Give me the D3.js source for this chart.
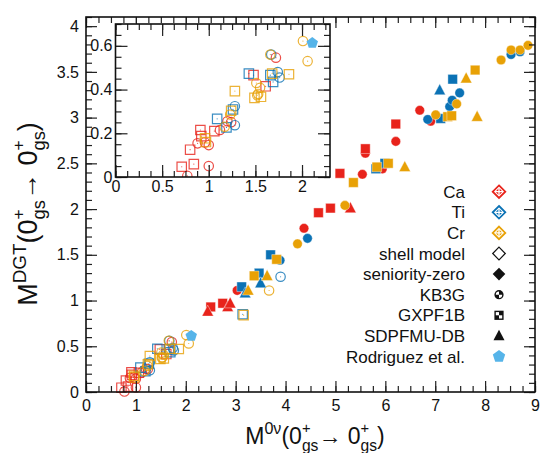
<!DOCTYPE html>
<html><head><meta charset="utf-8">
<script src="https://cdn.jsdelivr.net/npm/d3@7"></script>
<style>
body{margin:0;background:#fff}
svg{display:block}
text{font-family:"Liberation Sans",Arial,Helvetica,sans-serif;fill:#111}
</style>
</head><body>
<svg id="c" width="546" height="453"></svg>
<script>
// ---------------- DATA ----------------
const xTicksMain = [0,1,2,3,4,5,6,7,8,9];
const xTickLabelsMain = ["0","1","2","3","4","5","6","7","8","9"];
const yTicksMain = [0,0.5,1,1.5,2,2.5,3,3.5,4];
const yTickLabelsMain = ["0","0.5","1","1.5","2","2.5","3","3.5","4"];
const xTicksInset = [0,0.5,1,1.5,2];
const xTickLabelsInset = ["0","0.5","1","1.5","2"];
const yTicksInset = [0,0.2,0.4,0.6];
const yTickLabelsInset = ["0","0.2","0.4","0.6"];

const nuclei = ["Ca","Ti","Cr"];
const methodLabels = ["shell model","seniority-zero"];
const interactionLabels = ["KB3G","GXPF1B","SDPFMU-DB"];
const otherLabel = "Rodriguez et al.";

// shell model (open markers): [M0v, MDGT]
const caShellKB3G = [[1.72,0.546],[1.24,0.251],[1.20,0.255],[1.12,0.215],[0.88,0.154],[1.00,0.146],[0.96,0.158],[1.00,0.05],[0.77,0.005]];
const caShellGXPF1B = [[1.48,0.466],[1.61,0.415],[1.06,0.21],[0.91,0.215],[0.92,0.187],[0.80,0.125],[0.71,0.047],[0.84,0.059]];
const tiShellKB3G = [[1.67,0.56],[1.74,0.48],[1.76,0.455],[1.28,0.324],[1.28,0.237],[3.90,1.26]];
const tiShellGXPF1B = [[1.43,0.473],[1.69,0.435],[1.66,0.466],[1.26,0.309],[1.09,0.266],[1.19,0.227],[3.14,0.85]];
const crShellKB3G = [[2.01,0.622],[2.06,0.53],[1.66,0.56],[1.51,0.43],[1.55,0.408],[1.52,0.374],[1.53,0.38],[1.23,0.286],[1.17,0.23],[3.67,1.11]];
const crShellGXPF1B = [[1.28,0.393],[1.49,0.362],[1.56,0.367],[1.68,0.473],[1.86,0.47],[1.24,0.303],[0.96,0.177],[0.97,0.16],[3.16,0.84]];

// seniority-zero (filled markers)
const caSenKB3G = [[3.03,1.11],[4.37,1.79],[5.54,2.38],[5.60,2.61],[5.94,2.44],[6.21,2.74],[6.69,3.08],[6.91,2.96]];
const caSenGXPF1B = [[2.50,0.93],[2.74,0.97],[4.66,1.96],[4.90,2.01],[5.09,2.39],[5.60,2.66],[6.21,2.93]];
const caSenSDPFMU = [[2.44,0.88],[2.84,0.93],[2.89,0.97],[5.30,2.01]];
const tiSenKB3G = [[3.89,1.44],[4.44,1.68],[6.85,2.98],[7.29,3.12],[7.34,3.19],[7.49,3.27],[8.52,3.69],[8.70,3.72]];
const tiSenGXPF1B = [[3.12,1.15],[3.47,1.30],[3.70,1.50],[5.81,2.44],[5.99,2.50],[7.11,2.99],[7.35,3.42]];
const tiSenSDPFMU = [[3.19,1.08],[3.50,1.19],[7.09,3.30]];
const crSenKB3G = [[4.24,1.62],[5.19,2.04],[7.01,3.03],[7.43,3.15],[8.32,3.63],[8.52,3.74],[8.70,3.74],[8.86,3.79]];
const crSenGXPF1B = [[3.37,1.27],[3.82,1.45],[5.36,2.29],[5.83,2.46],[6.06,2.50],[7.25,3.01],[7.33,3.02],[7.80,3.52]];
const crSenSDPFMU = [[3.25,1.11],[3.63,1.27],[6.39,2.46],[7.62,3.43],[7.84,3.01]];

const rodriguez = [[2.11,0.613]];

// ---------------- STYLE ----------------
const colors = {Ca:"#e8231b", Ti:"#0b72b5", Cr:"#e8a106", Rod:"#56b4e9"};
const openGroups = [
  {nuc:"Ca", shape:"circle", pts:caShellKB3G},
  {nuc:"Ca", shape:"square", pts:caShellGXPF1B},
  {nuc:"Ti", shape:"circle", pts:tiShellKB3G},
  {nuc:"Ti", shape:"square", pts:tiShellGXPF1B},
  {nuc:"Cr", shape:"circle", pts:crShellKB3G},
  {nuc:"Cr", shape:"square", pts:crShellGXPF1B}
];
const filledGroups = [
  {nuc:"Ca", shape:"circle", pts:caSenKB3G},
  {nuc:"Ca", shape:"square", pts:caSenGXPF1B},
  {nuc:"Ca", shape:"triangle", pts:caSenSDPFMU},
  {nuc:"Ti", shape:"circle", pts:tiSenKB3G},
  {nuc:"Ti", shape:"square", pts:tiSenGXPF1B},
  {nuc:"Ti", shape:"triangle", pts:tiSenSDPFMU},
  {nuc:"Cr", shape:"circle", pts:crSenKB3G},
  {nuc:"Cr", shape:"square", pts:crSenGXPF1B},
  {nuc:"Cr", shape:"triangle", pts:crSenSDPFMU}
];

const svg = d3.select("#c");
const FONT_TICK = 16;

function shapePath(shape, r){
  if(shape==="circle") return d3.symbol(d3.symbolCircle, Math.PI*r*r)();
  if(shape==="square") return d3.symbol(d3.symbolSquare, (2*r)*(2*r))();
  if(shape==="triangle"){ const s=r*2.4; return `M0,${-s*0.55}L${s/2},${s*0.4}L${-s/2},${s*0.4}Z`; }
  if(shape==="diamond") return `M0,${-r}L${r},0L0,${r}L${-r},0Z`;
  if(shape==="pentagon"){
    const p=d3.range(5).map(i=>{const a=-Math.PI/2+i*2*Math.PI/5;return [r*Math.cos(a),r*Math.sin(a)];});
    return "M"+p.map(d=>d.join(",")).join("L")+"Z";
  }
}

function drawAxes(g, x, y, xt, xl, xMinor, yt, yl, yMinor, majorLen, minorLen, xPad, yPad){
  const [x0,x1]=x.range(), [y0,y1]=y.range();
  g.append("g").attr("transform",`translate(0,${y0})`)
    .call(d3.axisBottom(x).tickValues(xMinor).tickSize(-minorLen).tickSizeOuter(0).tickFormat(""));
  g.append("g").attr("transform",`translate(0,${y0})`)
    .call(d3.axisBottom(x).tickValues(xt).tickSize(-majorLen).tickSizeOuter(0).tickPadding(xPad).tickFormat((d,i)=>xl[i]));
  g.append("g").attr("transform",`translate(0,${y1})`)
    .call(d3.axisTop(x).tickValues(xMinor).tickSize(-minorLen).tickSizeOuter(0).tickFormat(""));
  g.append("g").attr("transform",`translate(0,${y1})`)
    .call(d3.axisTop(x).tickValues(xt).tickSize(-majorLen).tickSizeOuter(0).tickFormat(""));
  g.append("g").attr("transform",`translate(${x0},0)`)
    .call(d3.axisLeft(y).tickValues(yMinor).tickSize(-minorLen).tickSizeOuter(0).tickFormat(""));
  g.append("g").attr("transform",`translate(${x0},0)`)
    .call(d3.axisLeft(y).tickValues(yt).tickSize(-majorLen).tickSizeOuter(0).tickPadding(yPad).tickFormat((d,i)=>yl[i]));
  g.append("g").attr("transform",`translate(${x1},0)`)
    .call(d3.axisRight(y).tickValues(yMinor).tickSize(-minorLen).tickSizeOuter(0).tickFormat(""));
  g.append("g").attr("transform",`translate(${x1},0)`)
    .call(d3.axisRight(y).tickValues(yt).tickSize(-majorLen).tickSizeOuter(0).tickFormat(""));
  g.selectAll(".domain").remove();
  g.selectAll(".tick line").attr("stroke","#222").attr("stroke-width",1.2);
  g.selectAll(".tick text").attr("font-size",FONT_TICK).attr("fill","#111")
    .style("font-family",'"Liberation Sans",Arial,sans-serif');
  g.append("rect").attr("x",x0).attr("y",y1).attr("width",x1-x0).attr("height",y0-y1)
    .attr("fill","none").attr("stroke","#111").attr("stroke-width",1.6);
}

function drawPoints(g, x, y){
  openGroups.forEach(gr=>{
    gr.pts.forEach(p=>{
      const t = g.append("g").attr("transform",`translate(${x(p[0])},${y(p[1])})`).attr("opacity",0.8);
      t.append("path").attr("d",shapePath(gr.shape,4.7)).attr("fill","none")
        .attr("stroke",colors[gr.nuc]).attr("stroke-width",1.2);
      t.append("circle").attr("r",0.6).attr("fill",colors[gr.nuc]);
    });
  });
  filledGroups.forEach(gr=>{
    g.selectAll(null).data(gr.pts).enter().append("path")
      .attr("transform",p=>`translate(${x(p[0])},${y(p[1])})`)
      .attr("d",shapePath(gr.shape, 4.8))
      .attr("fill",colors[gr.nuc]).attr("stroke","#fff").attr("stroke-width",0.4);
  });
  g.selectAll(null).data(rodriguez).enter().append("path")
    .attr("transform",p=>`translate(${x(p[0])},${y(p[1])})`)
    .attr("d",shapePath("pentagon",6)).attr("fill",colors.Rod);
}

function minorTicks(lo,hi,step){ const n=Math.round((hi-lo)/step); return d3.range(n+1).map(i=>+(lo+i*step).toFixed(4)); }

// ---------------- MAIN ----------------
const xM = d3.scaleLinear().domain([0,9]).range([86,535]);
const yM = d3.scaleLinear().domain([0,4.1]).range([392,17]);
const main = svg.append("g");
const mainPts = main.append("g");
drawPoints(mainPts, xM, yM);
drawAxes(main, xM, yM, xTicksMain, xTickLabelsMain, minorTicks(0,9,0.25),
  yTicksMain, yTickLabelsMain, minorTicks(0,4.1,0.1), 11, 6, 8, 7);

// ---------------- INSET ----------------
const xI = d3.scaleLinear().domain([0,2.3]).range([115.5,330]);
const yI = d3.scaleLinear().domain([0,0.7]).range([177,24]);
const inset = svg.append("g");
inset.append("rect").attr("x",115.5).attr("y",24).attr("width",330-115.5).attr("height",177-24).attr("fill","#fff");
svg.append("clipPath").attr("id","ic").append("rect").attr("x",115.5).attr("y",24).attr("width",330-115.5).attr("height",177-24);
const insetPts = inset.append("g").attr("clip-path","url(#ic)");
drawPoints(insetPts, xI, yI);
drawAxes(inset, xI, yI, xTicksInset, xTickLabelsInset, minorTicks(0,2.3,0.125),
  yTicksInset, yTickLabelsInset, minorTicks(0,0.7,0.05), 12, 6, 4, 3);

// ---------------- RICH TEXT TITLES ----------------
function rich(parent, pieces, fs){
  const g = parent.append("g");
  let cx = 0;
  pieces.forEach(p=>{
    if(p.stack){
      const a = g.append("text").attr("x",cx).attr("y",-0.5*fs).attr("font-size",0.64*fs).text(p.stack[0]);
      const b = g.append("text").attr("x",cx).attr("y",0.3*fs).attr("font-size",0.68*fs).text(p.stack[1]);
      cx += Math.max(a.node().getComputedTextLength(), b.node().getComputedTextLength());
    } else {
      const t = g.append("text").attr("x",cx).attr("y",(p.dy||0)*fs).attr("font-size",(p.s||1)*fs).text(p.t);
      cx += t.node().getComputedTextLength();
    }
  });
  g.selectAll("text").attr("x",function(){return +d3.select(this).attr("x")-cx/2;});
  return g;
}
rich(svg.append("g").attr("transform","translate(315,444)"), [
  {t:"M"},{t:"0ν",s:0.7,dy:-0.42},{t:"(0"},{stack:["+","gs"]},{t:"→ 0"},{stack:["+","gs"]},{t:")"}
], 23);
rich(svg.append("g").attr("transform","translate(37,214) rotate(-90)"), [
  {t:"M"},{t:"DGT",s:0.7,dy:-0.42},{t:"(0"},{stack:["+","gs"]},{t:"→ 0"},{stack:["+","gs"]},{t:")"}
], 27);

// ---------------- LEGEND ----------------
const legendRows = [
  {label:"Ca", kind:"nuc", c:colors.Ca},
  {label:"Ti", kind:"nuc", c:colors.Ti},
  {label:"Cr", kind:"nuc", c:colors.Cr},
  {label:methodLabels[0], kind:"open"},
  {label:methodLabels[1], kind:"filled"},
  {label:interactionLabels[0], kind:"kb3g"},
  {label:interactionLabels[1], kind:"gxpf"},
  {label:interactionLabels[2], kind:"tri"},
  {label:otherLabel, kind:"rod"}
];
const leg = svg.append("g");
legendRows.forEach((r,i)=>{
  const yy = 191.7 + i*20.6;
  leg.append("text").attr("x",465).attr("y",yy).attr("dy","0.36em").attr("text-anchor","end")
    .attr("font-size",17).text(r.label);
  const m = leg.append("g").attr("transform",`translate(499,${yy})`);
  if(r.kind==="nuc"){
    m.append("path").attr("d",shapePath("diamond",6.3)).attr("fill","#fff").attr("stroke",r.c).attr("stroke-width",1.8);
    m.append("path").attr("d",shapePath("diamond",3.6)).attr("fill",r.c);
    m.append("path").attr("d","M-4,0H4M0,-4V4").attr("stroke","#fff").attr("stroke-width",1.3);
  } else if(r.kind==="open"){
    m.append("path").attr("d",shapePath("diamond",6.3)).attr("fill","none").attr("stroke","#111").attr("stroke-width",1.2);
  } else if(r.kind==="filled"){
    m.append("path").attr("d",shapePath("diamond",6.3)).attr("fill","#111");
  } else if(r.kind==="kb3g"){
    m.append("circle").attr("r",4.6).attr("fill","#111");
    m.append("path").attr("d","M0,0L-3.2,0A3.2,3.2 0 0 1 0,-3.2Z M0,0L3.2,0A3.2,3.2 0 0 1 0,3.2Z").attr("fill","#fff");
  } else if(r.kind==="gxpf"){
    m.append("rect").attr("x",-4.6).attr("y",-4.6).attr("width",9.2).attr("height",9.2).attr("fill","#111");
    m.append("rect").attr("x",-3.2).attr("y",-3.2).attr("width",3.2).attr("height",3.2).attr("fill","#fff");
    m.append("rect").attr("x",0).attr("y",0).attr("width",3.2).attr("height",3.2).attr("fill","#fff");
  } else if(r.kind==="tri"){
    m.append("path").attr("d",shapePath("triangle",4.6)).attr("fill","#111");
  } else if(r.kind==="rod"){
    m.append("path").attr("d",shapePath("pentagon",6.5)).attr("fill",colors.Rod);
  }
});
</script>
</body></html>
